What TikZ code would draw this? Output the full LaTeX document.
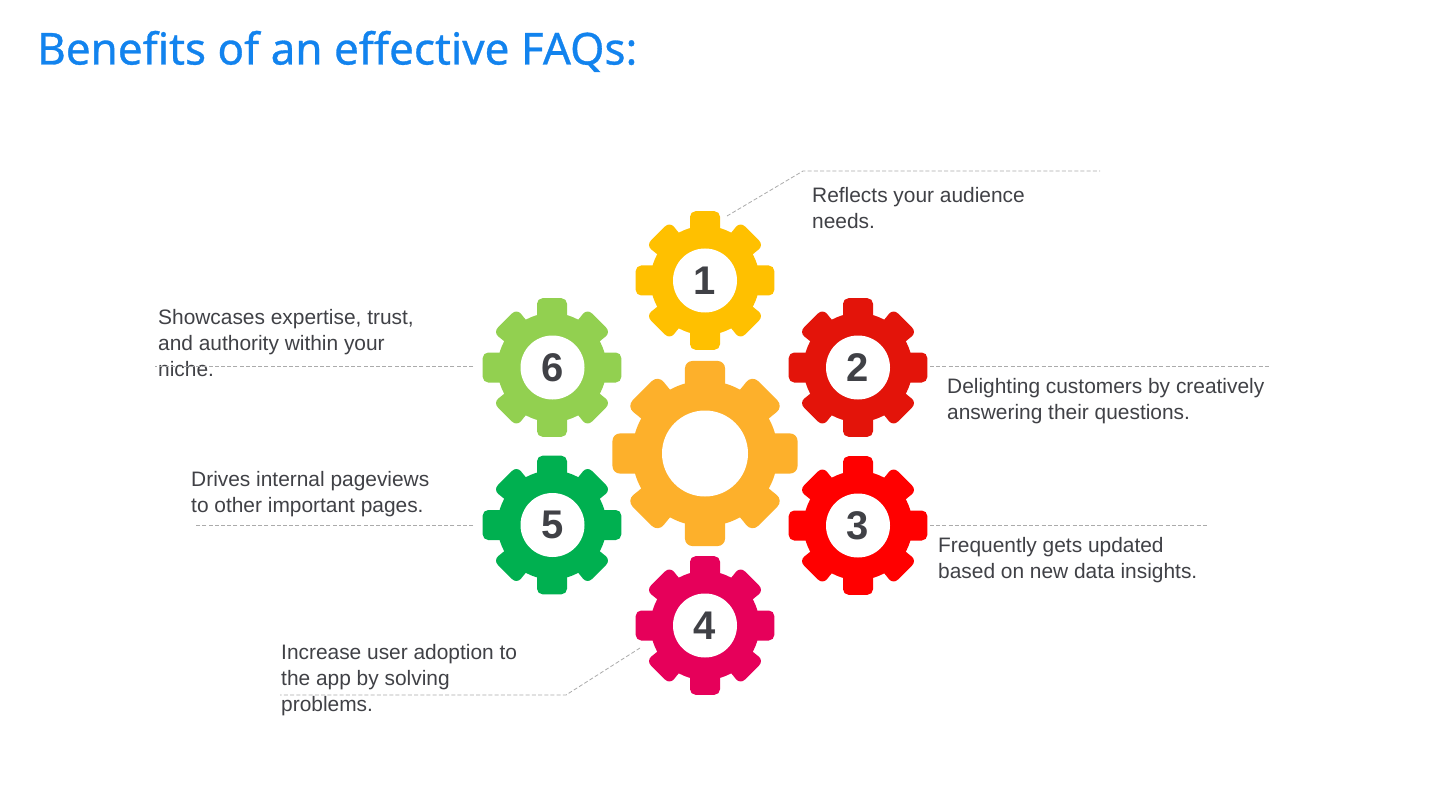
\documentclass[tikz,border=0pt]{standalone}
\usepackage{fontspec}
\setmainfont{Liberation Sans}
\newfontfamily\titlefont[FakeBold=0.7]{Noto Sans}
\definecolor{gyellow}{HTML}{FFC000}
\definecolor{gdred}{HTML}{E3140A}
\definecolor{gred}{HTML}{FF0000}
\definecolor{gpink}{HTML}{E6005A}
\definecolor{ggreen}{HTML}{00B050}
\definecolor{glime}{HTML}{92D050}
\definecolor{gorange}{HTML}{FDB02B}
\definecolor{titleblue}{HTML}{1283EE}
\definecolor{txt}{HTML}{404146}
\definecolor{lead}{HTML}{ABABAB}
\tikzset{
  leader/.style={draw=lead,line width=0.8pt,dash pattern=on 4pt off 2.2pt},
  label/.style={anchor=north west,inner sep=0pt,align=left,text=txt,font=\fontsize{20.9}{26}\selectfont},
  hole/.style={circle,fill=white,inner sep=0pt},
  num/.style={text=txt,font=\fontsize{40}{40}\selectfont\bfseries}
}
% #1 centre, #2 colour, #3 scale factor
\newcommand{\gearbody}[3]{%
  \begin{scope}[shift={(#1)}]
    \fill[#2] (0,0) circle ({54.5*#3});
    \foreach \a in {0,90,180,270}{
      \fill[#2,rotate=\a,rounded corners={5.5*#3}] ({-15*#3},{-40*#3}) -- ({-15*#3},{-69.3*#3}) -- ({15*#3},{-69.3*#3}) -- ({15*#3},{-40*#3}) -- cycle;
    }
    \foreach \a in {45,135,225,315}{
      \fill[#2,rotate=\a,rounded corners={7*#3}] ({-15*#3},{-40*#3}) -- ({-15*#3},{-52.6*#3}) -- ({-17*#3},{-66.5*#3}) -- ({17*#3},{-66.5*#3}) -- ({15*#3},{-52.6*#3}) -- ({15*#3},{-40*#3}) -- cycle;
    }
  \end{scope}%
}
\newcommand{\dg}[1]{\raisebox{-1.5pt}{#1}}
\begin{document}
\begin{tikzpicture}[x=1pt,y=-1pt]
\path[use as bounding box,fill=white] (0,0) rectangle (1440,810);
\node[anchor=base west,inner sep=0pt,text=titleblue,font=\titlefont\fontsize{44}{50}\selectfont] (title) at (37,64.5) {Benefits of an effective FAQs:};

\gearbody{705,453.5}{gorange}{1.335}
\gearbody{705,280.5}{gyellow}{1}
\gearbody{858,367.5}{gdred}{1}
\gearbody{858,525.5}{gred}{1}
\gearbody{705,625.5}{gpink}{1}
\gearbody{552,525}{ggreen}{1}
\gearbody{552,367.5}{glime}{1}

\node[hole,minimum size=86pt] (g0) at (705,453.5) {};
\node[hole,minimum size=64pt,num] (g1) at (705,280.5) {\dg{1}};
\node[hole,minimum size=64pt,num] (g2) at (858,367.5) {\dg{2}};
\node[hole,minimum size=64pt,num] (g3) at (858,525.5) {\dg{3}};
\node[hole,minimum size=64pt,num] (g4) at (705,625.5) {\dg{4}};
\node[hole,minimum size=64pt,num] (g5) at (552.5,525) {\dg{5}};
\node[hole,minimum size=64pt,num] (g6) at (552.5,367.5) {\dg{6}};

\node[label] (t1) at (812,187) {Reflects your audience\\needs.};
\node[label] (t2) at (947,378.5) {Delighting customers by creatively\\answering their questions.};
\node[label] (t3) at (938,537.5) {Frequently gets updated\\based on new data insights.};
\node[label] (t4) at (281,644.5) {Increase user adoption to\\the app by solving\\problems.};
\node[label] (t5) at (191,471.5) {Drives internal pageviews\\to other important pages.};
\node[label] (t6) at (158,309.5) {Showcases expertise, trust,\\and authority within your\\niche.};

\coordinate (c1a) at (727,216); \coordinate (c1b) at (803,171); \coordinate (c1c) at (1100,171);
\coordinate (c2a) at (930,366); \coordinate (c2b) at (1270,366);
\coordinate (c3a) at (930,525); \coordinate (c3b) at (1207,525);
\coordinate (c4a) at (640,648); \coordinate (c4b) at (566,695); \coordinate (c4c) at (280,695);
\coordinate (c5a) at (473,525); \coordinate (c5b) at (195,525);
\coordinate (c6a) at (473,366); \coordinate (c6b) at (155,366);
\draw[leader] (c1a) -- (c1b) -- (c1c);
\draw[leader] (c2a) -- (c2b);
\draw[leader] (c3a) -- (c3b);
\draw[leader] (c4a) -- (c4b) -- (c4c);
\draw[leader] (c5a) -- (c5b);
\draw[leader] (c6a) -- (c6b);
\end{tikzpicture}
\end{document}
